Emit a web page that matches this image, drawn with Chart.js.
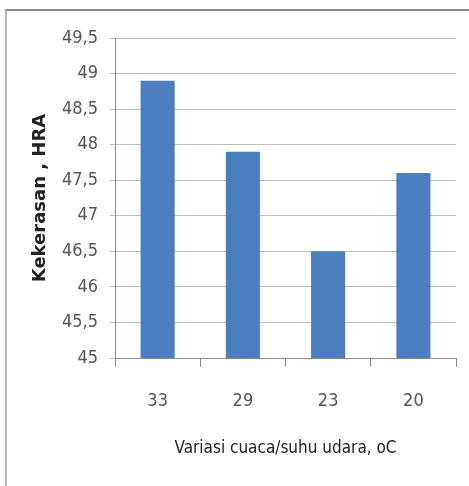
<!DOCTYPE html>
<html>
<head>
<meta charset="utf-8">
<script src="https://cdn.jsdelivr.net/npm/chart.js@4"></script>
<style>
  html, body { margin: 0; padding: 0; background: #fff; }
  #wrap { position: relative; width: 469px; height: 486px; overflow: hidden; }
  #frame { position: absolute; left: 5px; top: 9px; width: 480px; height: 500px;
           border-top: 2px solid #8a8a8a; border-left: 2px solid #b4b4b4; box-sizing: border-box; }
  canvas { position: absolute; left: 0; top: 0; }
</style>
</head>
<body>
<div id="wrap">
  <div id="frame"></div>
  <canvas id="chart" width="469" height="486"></canvas>
</div>
<script>
// suhu udara (oC) vs kekerasan (HRA)
const categories = ['33', '29', '23', '20'];
const hardness   = [48.9, 47.9, 46.5, 47.6];
const yMin = 45, yMax = 49.5, yStep = 0.5;

const TICK_FONT = { family: "'Liberation Sans Narrow', 'DejaVu Sans Condensed', sans-serif", size: 18 };

new Chart(document.getElementById('chart'), {
  type: 'bar',
  data: {
    labels: categories,
    datasets: [{ data: hardness, backgroundColor: '#4a7ebf', borderWidth: 0,
                 categoryPercentage: 1, barPercentage: 0.4 }]
  },
  options: {
    responsive: false,
    animation: false,
    layout: { padding: { top: 38, right: 13, bottom: 18, left: 0 } },
    plugins: { legend: { display: false }, tooltip: { enabled: false } },
    scales: {
      x: {
        afterFit: s => { s.height = 110; },
        grid: { drawOnChartArea: false, drawTicks: true, tickLength: 9, color: '#8c8c8c', offset: true },
        border: { color: '#8c8c8c', width: 1 },
        ticks: { color: '#555', font: TICK_FONT, padding: 24 },
        title: { display: true, text: 'Variasi cuaca/suhu udara, oC', color: '#222',
                 font: { family: TICK_FONT.family, size: 17 }, padding: { top: 0, bottom: 9 } }
      },
      y: {
        min: yMin, max: yMax,
        afterFit: s => { s.width = 115; },
        grid: { color: '#bdbdbd', tickLength: 5, drawTicks: true },
        border: { color: '#8c8c8c', width: 1 },
        ticks: {
          stepSize: yStep, color: '#555', font: TICK_FONT, padding: 12,
          callback: v => String(v).replace('.', ',')
        },
        title: { display: true, text: 'Kekerasan , HRA', color: '#222',
                 font: { family: "'DejaVu Sans', sans-serif", size: 18, weight: 'bold' },
                 padding: { top: 30, bottom: 0 } }
      }
    }
  }
});
</script>
</body>
</html>
